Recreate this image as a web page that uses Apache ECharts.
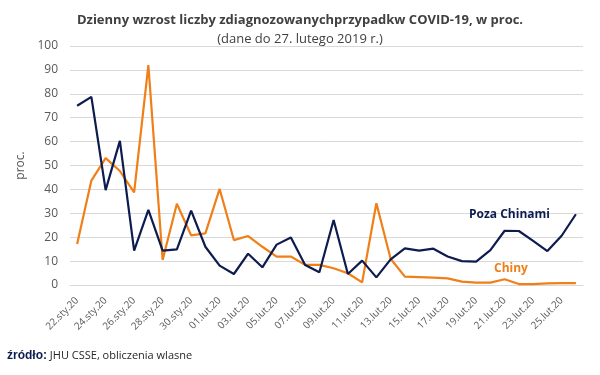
<!DOCTYPE html>
<html>
<head>
<meta charset="utf-8">
<script src="https://cdn.jsdelivr.net/npm/echarts@6/dist/echarts.min.js"></script>
<style>
  html, body { margin: 0; padding: 0; background: #fff; }
  #chart { width: 600px; height: 375px; }
</style>
</head>
<body>
<div id="chart"></div>
<script>
// daty (co drugą etykietę pokazuje oś)
const dates = [
  '22.sty.20','23.sty.20','24.sty.20','25.sty.20','26.sty.20','27.sty.20','28.sty.20','29.sty.20','30.sty.20','31.sty.20',
  '01.lut.20','02.lut.20','03.lut.20','04.lut.20','05.lut.20','06.lut.20','07.lut.20','08.lut.20','09.lut.20','10.lut.20',
  '11.lut.20','12.lut.20','13.lut.20','14.lut.20','15.lut.20','16.lut.20','17.lut.20','18.lut.20','19.lut.20','20.lut.20',
  '21.lut.20','22.lut.20','23.lut.20','24.lut.20','25.lut.20','26.lut.20'
]
const pozaChinami = [
  75, 78.7, 39.7, 60.3, 14.4, 31.4, 14.4, 14.9, 31.1, 16,
  8.1, 4.6, 13.1, 7.4, 16.9, 19.9, 8.4, 5.3, 27.2, 4.6,
  10.2, 3.2, 10.7, 15.3, 14.4, 15.2, 11.9, 10, 9.8, 14.6,
  22.7, 22.6, 18.5, 14.2, 20.6, 29.6
]
const chiny = [
  17.2, 43.7, 53.1, 47.7, 38.8, 92, 10.5, 34, 20.8, 21.6,
  40.2, 18.8, 20.5, 16, 11.9, 11.9, 8.4, 8.4, 7, 4.9,
  1.1, 34.2, 11, 3.5, 3.3, 3.1, 2.8, 1.4, 1, 1,
  2.4, 0.4, 0.4, 0.7, 0.8, 0.8
]
const yTicks = [0, 10, 20, 30, 40, 50, 60, 70, 80, 90, 100]

const navy = '#0d1b4f'
const orange = '#f07f18'
const txtFont = 'Open Sans'

const chart = echarts.init(document.getElementById('chart'))
chart.setOption({
  animation: false,
  title: [
    {
      text: 'Dzienny wzrost liczby zdiagnozowanychprzypadkw COVID-19, w proc.',
      left: 'center',
      top: 9,
      textStyle: { fontFamily: txtFont, fontSize: 13, fontWeight: 'bold', color: '#404040' }
    },
    {
      text: '(dane do 27. lutego 2019 r.)',
      left: 'center',
      top: 28,
      textStyle: { fontFamily: txtFont, fontSize: 13, fontWeight: 'normal', color: '#404040' }
    }
  ],
  grid: { left: 70, right: 17, top: 46, bottom: 90, containLabel: false },
  xAxis: {
    type: 'category',
    data: dates,
    boundaryGap: true,
    axisLine: { show: true, lineStyle: { color: '#d9d9d9' } },
    axisTick: { show: false },
    axisLabel: {
      interval: 1,
      rotate: 45,
      margin: 14,
      fontFamily: txtFont,
      fontSize: 10,
      color: '#595959'
    }
  },
  yAxis: {
    type: 'value',
    min: yTicks[0],
    max: yTicks[yTicks.length - 1],
    interval: 10,
    name: 'proc.',
    nameLocation: 'middle',
    nameGap: 42,
    nameTextStyle: { fontFamily: txtFont, fontSize: 12, color: '#595959' },
    axisLine: { show: false },
    axisTick: { show: false },
    axisLabel: { fontFamily: txtFont, fontSize: 12, color: '#595959', margin: 12 },
    splitLine: { lineStyle: { color: '#d9d9d9', width: 1 } }
  },
  series: [
    {
      name: 'Poza Chinami',
      type: 'line',
      data: pozaChinami,
      symbol: 'none',
      lineStyle: { color: navy, width: 2.2 },
      z: 3
    },
    {
      name: 'Chiny',
      type: 'line',
      data: chiny,
      symbol: 'none',
      lineStyle: { color: orange, width: 2.2 },
      z: 2
    }
  ],
  graphic: [
    {
      type: 'text', left: 469, top: 209, z: 10,
      style: { text: 'Poza Chinami', fill: navy, font: 'bold 12px "Open Sans"' }
    },
    {
      type: 'text', left: 494, top: 263, z: 10,
      style: { text: 'Chiny', fill: orange, font: 'bold 12px "Open Sans"' }
    },
    {
      type: 'text', left: 7, top: 350,
      style: {
        text: '{b|źródło:} JHU CSSE, obliczenia wlasne',
        rich: {
          b: { fontWeight: 'bold', fill: navy, font: 'bold 11px "Open Sans"' }
        },
        fill: '#262626',
        font: '11px "Open Sans"'
      }
    }
  ]
})
</script>
</body>
</html>
